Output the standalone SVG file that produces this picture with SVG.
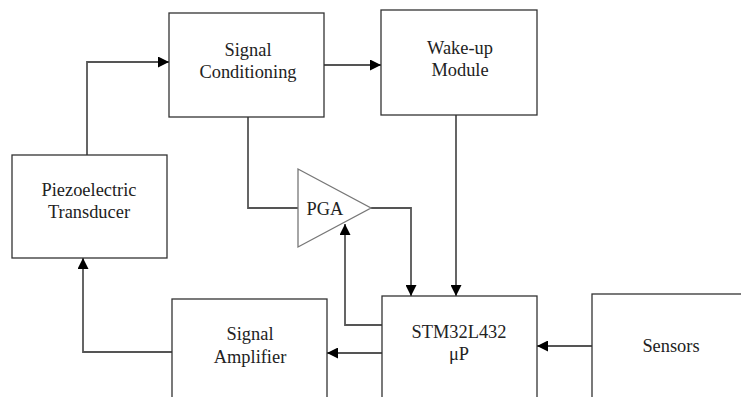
<svg xmlns="http://www.w3.org/2000/svg" width="741" height="397" viewBox="0 0 741 397">
<style>
.box{fill:#fff;stroke:#333;stroke-width:1.3}
.tri{fill:#fff;stroke:#777;stroke-width:1.3}
.lbl{font-family:'Liberation Serif','Times New Roman',serif;font-size:18.4px;fill:#222;text-anchor:middle}
.c{fill:none;stroke:#555;stroke-width:1.8}
</style>
<defs>
<marker id="ah" viewBox="0 0 10 10" refX="10" refY="5" markerWidth="11" markerHeight="11" markerUnits="userSpaceOnUse" orient="auto">
<path d="M0,0 L10,5 L0,10 Z" fill="#000"/>
</marker>
</defs>
<rect width="741" height="397" fill="#fff"/>
<g id="connectors">
<path class="c" d="M87,155 V62 H169" marker-end="url(#ah)"/>
<path class="c" d="M324,65 H381" marker-end="url(#ah)"/>
<path class="c" d="M248,117 V208 H298"/>
<path class="c" d="M371,208 H411 V296" marker-end="url(#ah)"/>
<path class="c" d="M456,115 V296" marker-end="url(#ah)"/>
<path class="c" d="M592,346 H537" marker-end="url(#ah)"/>
<path class="c" d="M382,325 H345 V224" marker-end="url(#ah)"/>
<path class="c" d="M382,353 H327" marker-end="url(#ah)"/>
<path class="c" d="M172,352 H83 V258" marker-end="url(#ah)"/>
</g>
<g id="signal-conditioning">
<rect class="box" x="169" y="13" width="155" height="104"/>
<text class="lbl" x="248" y="56">Signal</text>
<text class="lbl" x="248" y="78">Conditioning</text>
</g>
<g id="wake-up-module">
<rect class="box" x="381" y="10" width="156" height="105"/>
<text class="lbl" x="460" y="54">Wake-up</text>
<text class="lbl" x="460" y="76">Module</text>
</g>
<g id="piezoelectric-transducer">
<rect class="box" x="12" y="155" width="155" height="103"/>
<text class="lbl" x="89" y="196">Piezoelectric</text>
<text class="lbl" x="89" y="218">Transducer</text>
</g>
<g id="pga">
<polygon class="tri" points="298,169 371,208 298,247"/>
<text class="lbl" x="325" y="215">PGA</text>
</g>
<g id="stm32">
<rect class="box" x="382" y="296" width="155" height="110"/>
<text class="lbl" x="459" y="338">STM32L432</text>
<text class="lbl" x="459" y="360">μP</text>
</g>
<g id="sensors">
<rect class="box" x="592" y="294" width="160" height="112"/>
<text class="lbl" x="671" y="352">Sensors</text>
</g>
<g id="signal-amplifier">
<rect class="box" x="172" y="299" width="155" height="107"/>
<text class="lbl" x="250" y="340">Signal</text>
<text class="lbl" x="250" y="363">Amplifier</text>
</g>
</svg>
